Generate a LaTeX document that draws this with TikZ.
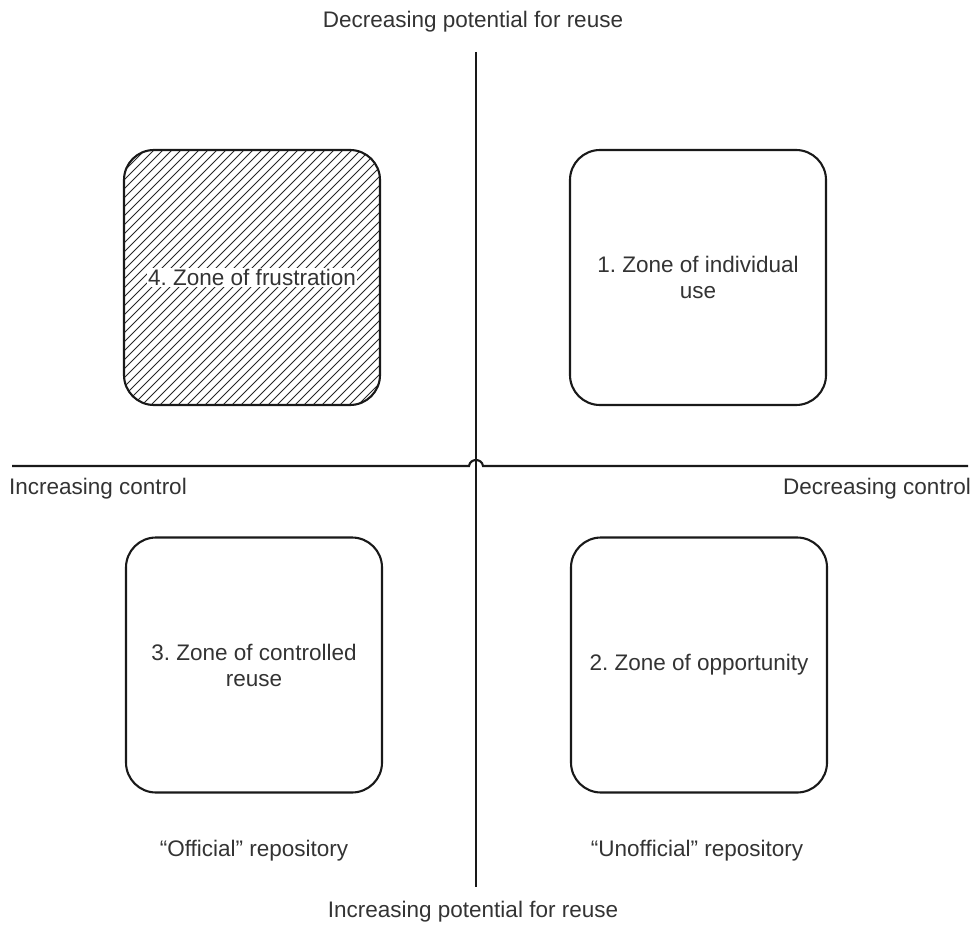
\documentclass[tikz,border=0pt]{standalone}
\usepackage{fontspec}
\setmainfont{Liberation Sans}
\usetikzlibrary{calc}
\frenchspacing
\tikzset{
  zone/.style={draw=black!90, line width=2.1pt, rounded corners=30pt,
    minimum width=256pt, minimum height=255pt, inner sep=0pt},
  lbl/.style={text=black!80, align=center,
    font=\fontsize{22.5}{26}\selectfont\frenchspacing, inner sep=1pt},
  axis/.style={draw=black!90, line width=2.1pt},
  hatchline/.style={draw=black!85, line width=0.95pt}
}
\begin{document}
\begin{tikzpicture}[x=1pt,y=-1pt]
  \useasboundingbox (0,0) rectangle (976,931);

  % axes
  \coordinate (axtop) at (476,52);
  \coordinate (axbot) at (476,887);
  \coordinate (axleft) at (12,466);
  \coordinate (axright) at (968,466);
  \coordinate (cross) at (476,466);

  \draw[axis] (axtop) -- (axbot);
  \draw[axis] (axleft) -- ($(cross)+(-7,0)$)
     .. controls ($(cross)+(-6,-8)$) and ($(cross)+(6,-8)$) .. ($(cross)+(7,0)$)
     -- (axright);

  % axis labels
  \node[lbl] (ttop) at (473,22) {Decreasing potential for reuse};
  \node[lbl] (tbot) at (473,912) {Increasing potential for reuse};
  \node[lbl, anchor=west] (tleft) at (8,489) {Increasing control};
  \node[lbl, anchor=east] (tright) at (972,489) {Decreasing control};

  % zone 4: diagonal hatching clipped to the rounded box
  \begin{scope}
    \clip[rounded corners=30pt] (124,150) rectangle (380,405);
    \foreach \k in {-270,-261,...,270}
      \draw[hatchline] (124+\k,405) -- (379+\k,150);
  \end{scope}
  \node[zone] (z4) at (252,277.5) {};
  \node[lbl, fill=white, inner sep=1.5pt] (z4t) at (z4.center) {4. Zone of frustration};

  % remaining zones
  \node[zone] (z1) at (698,277.5) {};
  \node[lbl] (z1t) at (z1.center) {1. Zone of individual\\use};
  \node[zone] (z3) at (254,665) {};
  \node[lbl] (z3t) at (z3.center) {3. Zone of controlled\\reuse};
  \node[zone] (z2) at (699,665) {};
  \node[lbl] (z2t) at (z2.center) {2. Zone of opportunity};

  % repository labels
  \node[lbl] (rep3) at (254,851) {“Official” repository};
  \node[lbl] (rep2) at (697,851) {“Unofficial” repository};
\end{tikzpicture}
\end{document}
